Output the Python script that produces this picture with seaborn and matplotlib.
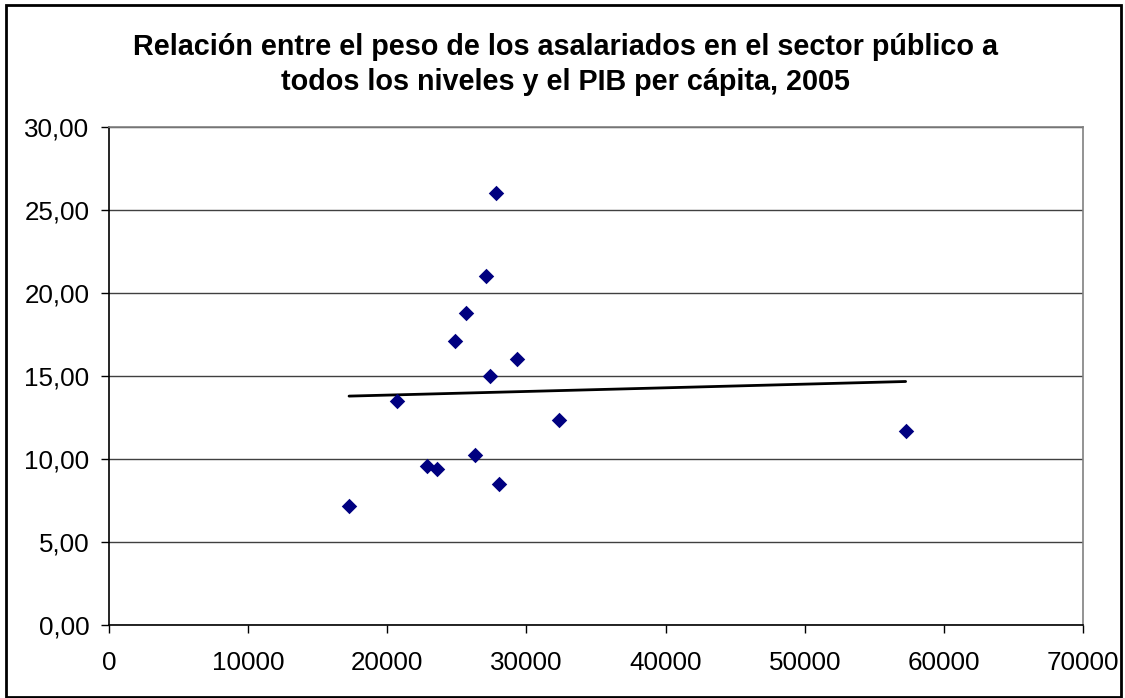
import numpy as np
import pandas as pd
import matplotlib
matplotlib.use("Agg")
import matplotlib.pyplot as plt
import seaborn as sns
from matplotlib.ticker import FuncFormatter, MultipleLocator
from matplotlib.patches import Rectangle

# PIB per cápita (x) y peso de los asalariados públicos (y), 2005
pib_per_capita = [17250, 20680, 22880, 23560, 26330, 28040, 27390,
                  32370, 27800, 27100, 25670, 24870, 29350, 57250]
peso_asalariados = [7.15, 13.51, 9.60, 9.38, 10.22, 8.51, 15.00,
                    12.33, 26.00, 21.02, 18.78, 17.09, 16.04, 11.70]

titulo = ("Relación entre el peso de los asalariados en el sector público a\n"
          "todos los niveles y el PIB per cápita, 2005")

df = pd.DataFrame({"pib": pib_per_capita, "peso": peso_asalariados})

sns.set_style("white")
plt.rcParams["font.family"] = ["Liberation Sans", "DejaVu Sans"]
plt.rcParams["text.color"] = "black"

fig = plt.figure(figsize=(11.25, 6.98), dpi=100)
ax = fig.add_axes([0.0969, 0.1046, 0.9627 - 0.0969, 0.818 - 0.1046])

# gridlines
ax.yaxis.set_major_locator(MultipleLocator(5))
ax.xaxis.set_major_locator(MultipleLocator(10000))
ax.grid(axis="y", color="#404040", linewidth=1.0)
ax.grid(axis="x", visible=False)
ax.set_axisbelow(True)

sns.scatterplot(data=df, x="pib", y="peso", marker="D", color="#000080",
                s=62, linewidth=0, ax=ax, zorder=3)
sns.regplot(data=df, x="pib", y="peso", scatter=False, ci=None,
            color="black", line_kws={"linewidth": 2.0}, ax=ax)

ax.set_xlim(0, 70000)
ax.set_ylim(0, 30)
ax.set_xlabel("")
ax.set_ylabel("")

ax.yaxis.set_major_formatter(FuncFormatter(lambda v, p: f"{v:.2f}".replace(".", ",")))
ax.xaxis.set_major_formatter(FuncFormatter(lambda v, p: f"{int(v)}"))
ax.tick_params(axis="both", labelsize=18.7, colors="black", direction="out",
               length=6, width=1, left=True, bottom=True)
ax.tick_params(axis="x", pad=13)
ax.tick_params(axis="y", pad=8)

ax.spines["left"].set_color("black")
ax.spines["bottom"].set_color("black")
ax.spines["top"].set_color("#808080")
ax.spines["right"].set_color("#808080")
for s in ax.spines.values():
    s.set_linewidth(1.2)
    s.set_visible(True)

fig.text(0.503, 0.9075, titulo, ha="center", va="center", fontsize=20.7,
         fontweight="bold", color="black", linespacing=1.32)

# chart border
fig.patches.append(Rectangle((6 / 1125, 1 / 698), 1115 / 1125, 692 / 698,
                             transform=fig.transFigure, fill=False,
                             edgecolor="black", linewidth=2))

fig.savefig("out.png", dpi=100)
